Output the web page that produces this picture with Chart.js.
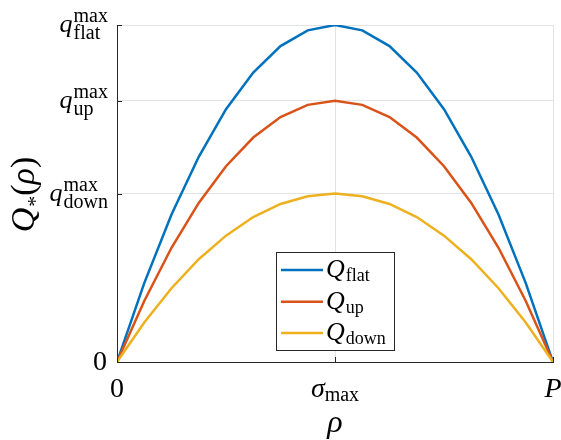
<!DOCTYPE html>
<html>
<head>
<meta charset="utf-8">
<script src="https://cdn.jsdelivr.net/npm/chart.js@4"></script>
<style>
  html, body { margin: 0; padding: 0; background: #fff; }
  canvas { display: block; }
</style>
</head>
<body>
<canvas id="qChart" width="561" height="440"></canvas>
<script>
// rho positions (0 .. P, normalised)
const rho = [0, 0.0625, 0.125, 0.1875, 0.25, 0.3125, 0.375, 0.4375, 0.5,
             0.5625, 0.625, 0.6875, 0.75, 0.8125, 0.875, 0.9375, 1];

// curves (normalised to q_flat^max = 1)
const qFlat = [0, 0.234, 0.4375, 0.609, 0.75, 0.859, 0.9375, 0.984, 1,
               0.984, 0.9375, 0.859, 0.75, 0.609, 0.4375, 0.234, 0];
const qUp = [0, 0.181, 0.339, 0.472, 0.581, 0.666, 0.727, 0.763, 0.775,
             0.763, 0.727, 0.666, 0.581, 0.472, 0.339, 0.181, 0];
const qDown = [0, 0.117, 0.219, 0.305, 0.375, 0.43, 0.469, 0.492, 0.5,
               0.492, 0.469, 0.43, 0.375, 0.305, 0.219, 0.117, 0];

const seriesSub = ['flat', 'up', 'down'];
const seriesColors = ['#0072BD', '#D95319', '#EDB120'];

// axis ticks
const xTickValues = [0, 0.5, 1];
const xTickBase = ['0', 'σ', 'P'];
const xTickSub = ['', 'max', ''];
const yTickValues = [0, 0.5, 0.775, 1];
const yTickBase = ['0', 'q', 'q', 'q'];
const yTickSup = ['', 'max', 'max', 'max'];
const yTickSub = ['', 'down', 'up', 'flat'];

const ROMAN = '"Liberation Serif", "DejaVu Serif", serif';
const ITALIC = 'italic ' ;
const INK = '#262626';

function makeData(ys) {
    return ys.map((y, i) => ({ x: rho[i], y: y }));
}

function isItalic(s) {
    return /[a-zA-Zσρ]/.test(s);
}

// draws the math-ish labels, inward ticks and the legend
const mathPlugin = {
    id: 'mathLabels',
    afterDatasetsDraw(chart) {
        const ctx = chart.ctx;
        const xs = chart.scales.x;
        const ys = chart.scales.y;
        const area = chart.chartArea;
        ctx.save();

        // inward tick marks
        ctx.strokeStyle = INK;
        ctx.lineWidth = 1;
        ctx.beginPath();
        yTickValues.forEach(v => {
            const py = Math.round(ys.getPixelForValue(v)) + 0.5;
            ctx.moveTo(area.left, py);
            ctx.lineTo(area.left + 5, py);
        });
        xTickValues.forEach(v => {
            const px = Math.round(xs.getPixelForValue(v)) + 0.5;
            ctx.moveTo(px, area.bottom);
            ctx.lineTo(px, area.bottom - 5);
        });
        ctx.stroke();

        ctx.fillStyle = '#000';
        ctx.textAlign = 'left';
        ctx.textBaseline = 'alphabetic';

        // y tick labels
        yTickValues.forEach((v, i) => {
            const py = ys.getPixelForValue(v);
            const right = area.left - 10;
            if (!yTickSup[i]) {
                ctx.font = '28px ' + ROMAN;
                ctx.textAlign = 'right';
                ctx.fillText(yTickBase[i], right, py + 8);
                ctx.textAlign = 'left';
                return;
            }
            ctx.font = ITALIC + '26px ' + ROMAN;
            const wq = ctx.measureText(yTickBase[i]).width;
            ctx.font = '20px ' + ROMAN;
            const wSup = ctx.measureText(yTickSup[i]).width;
            const wSub = ctx.measureText(yTickSub[i]).width;
            const x0 = right - wq - Math.max(wSup, wSub);
            ctx.font = ITALIC + '26px ' + ROMAN;
            ctx.fillText(yTickBase[i], x0, py + 7);
            ctx.font = '20px ' + ROMAN;
            ctx.fillText(yTickSup[i], x0 + wq + 1, py - 3);
            ctx.fillText(yTickSub[i], x0 + wq + 1, py + 14);
        });

        // x tick labels
        xTickValues.forEach((v, i) => {
            const px = xs.getPixelForValue(v);
            const base = area.bottom + 35;
            ctx.font = (isItalic(xTickBase[i]) ? ITALIC : '') + '28px ' + ROMAN;
            const wb = ctx.measureText(xTickBase[i]).width;
            ctx.font = '20px ' + ROMAN;
            const ws = xTickSub[i] ? ctx.measureText(xTickSub[i]).width : 0;
            const x0 = px - (wb + ws) / 2;
            ctx.font = (isItalic(xTickBase[i]) ? ITALIC : '') + '28px ' + ROMAN;
            ctx.fillText(xTickBase[i], x0, base);
            if (xTickSub[i]) {
                ctx.font = '20px ' + ROMAN;
                ctx.fillText(xTickSub[i], x0 + wb, base + 4);
            }
        });

        // x axis title: rho
        ctx.font = ITALIC + '32px ' + ROMAN;
        ctx.textAlign = 'center';
        ctx.fillText('ρ', (area.left + area.right) / 2, 432);

        // y axis title: Q_*(rho), rotated
        ctx.save();
        ctx.translate(24, 195);
        ctx.rotate(-Math.PI / 2);
        ctx.textAlign = 'left';
        const parts = [
            { t: 'Q', f: ITALIC + '34px ' + ROMAN, dy: 0 },
            { t: '*', f: '22px ' + ROMAN, dy: 8 },
            { t: '(', f: '34px ' + ROMAN, dy: 0 },
            { t: 'ρ', f: ITALIC + '34px ' + ROMAN, dy: 0 },
            { t: ')', f: '34px ' + ROMAN, dy: 0 }
        ];
        let total = 0;
        parts.forEach(p => { ctx.font = p.f; p.w = ctx.measureText(p.t).width; total += p.w; });
        let cx = -total / 2;
        parts.forEach(p => {
            ctx.font = p.f;
            ctx.fillText(p.t, cx, 10 + p.dy);
            cx += p.w + (p.t === 'Q' ? 1 : 0);
        });
        ctx.restore();

        // legend
        const box = { x: 276.5, y: 252.5, w: 118, h: 98 };
        ctx.fillStyle = '#fff';
        ctx.fillRect(box.x, box.y, box.w, box.h);
        ctx.strokeStyle = INK;
        ctx.lineWidth = 1;
        ctx.strokeRect(box.x, box.y, box.w, box.h);
        const rowY = [270, 301.7, 333];
        seriesSub.forEach((sub, i) => {
            ctx.strokeStyle = seriesColors[i];
            ctx.lineWidth = 2.5;
            ctx.beginPath();
            ctx.moveTo(281, rowY[i]);
            ctx.lineTo(323, rowY[i]);
            ctx.stroke();
            ctx.fillStyle = '#000';
            ctx.textAlign = 'left';
            ctx.font = ITALIC + '26px ' + ROMAN;
            ctx.fillText('Q', 326, rowY[i] + 7);
            const wQ = ctx.measureText('Q').width;
            ctx.font = '18px ' + ROMAN;
            ctx.fillText(sub, 326 + wQ + 1, rowY[i] + 11);
        });

        ctx.restore();
    }
};

const ctx = document.getElementById('qChart').getContext('2d');
const qChart = new Chart(ctx, {
    type: 'line',
    data: {
        datasets: [qFlat, qUp, qDown].map((ys, i) => ({
            label: 'Q_' + seriesSub[i],
            data: makeData(ys),
            borderColor: seriesColors[i],
            borderWidth: 2.5,
            pointRadius: 0,
            tension: 0,
            fill: false,
            order: 3 - i
        }))
    },
    options: {
        responsive: false,
        animation: false,
        devicePixelRatio: 1,
        layout: { padding: { left: 117, top: 25, right: 8, bottom: 78 } },
        plugins: { legend: { display: false }, tooltip: { enabled: false } },
        scales: {
            x: {
                type: 'linear',
                min: 0,
                max: 1,
                afterBuildTicks: (scale) => { scale.ticks = xTickValues.map(v => ({ value: v })); },
                ticks: { display: false },
                grid: { color: '#e3e3e3', lineWidth: 1, drawTicks: false },
                border: { display: true, color: INK, width: 1 }
            },
            y: {
                type: 'linear',
                min: 0,
                max: 1,
                afterBuildTicks: (scale) => { scale.ticks = yTickValues.map(v => ({ value: v })); },
                ticks: { display: false },
                grid: { color: '#e3e3e3', lineWidth: 1, drawTicks: false },
                border: { display: true, color: INK, width: 1 }
            }
        }
    },
    plugins: [mathPlugin]
});
</script>
</body>
</html>
